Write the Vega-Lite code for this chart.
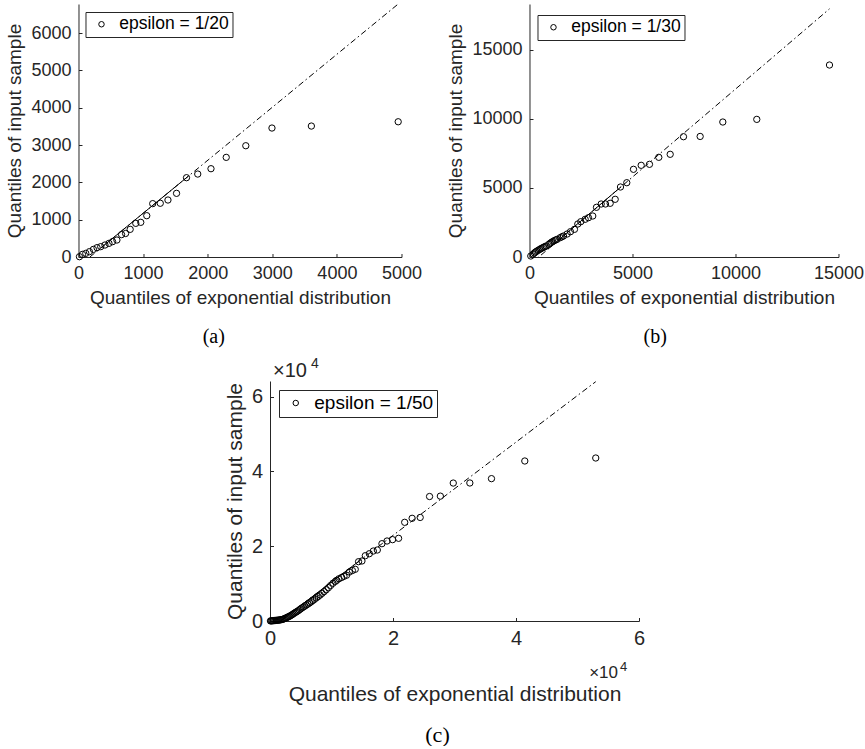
{
  "$schema": "https://vega.github.io/schema/vega-lite/v6.json",
  "padding": {"left": 5, "top": 4, "right": 0, "bottom": 0},
  "background": "white",
  "config": {
    "view": {"stroke": null},
    "font": "Liberation Sans",
    "axis": {
      "grid": false, "domainColor": "#262626", "tickColor": "#262626", "tickSize": -3.5,
      "domainWidth": 1, "tickWidth": 1,
      "labelFont": "Liberation Sans", "labelFontSize": 18, "labelColor": "#262626",
      "labelPadding": 11, "labelFlush": false, "labelOverlap": false,
      "titleFont": "Liberation Sans", "titleFontSize": 19, "titleFontWeight": "normal",
      "titleColor": "#262626", "titlePadding": 6
    },
    "legend": {
      "orient": "none", "padding": 3.5, "strokeColor": "#262626",
      "fillColor": "white", "labelFont": "Liberation Sans", "labelFontSize": 17.5,
      "labelColor": "black", "symbolSize": 30, "symbolStrokeColor": "black",
      "symbolFillColor": "transparent", "symbolStrokeWidth": 1, "symbolOpacity": 1, "symbolOffset": 3.75,
      "labelOffset": 9, "cornerRadius": 0, "symbolType": "circle"
    },
    "title": {"font": "Liberation Serif", "fontSize": 20, "fontWeight": "normal", "color": "black", "orient": "bottom", "offset": 19, "frame": "bounds"}
  },
  "vconcat": [
    {
      "hconcat": [
        {
          "width": 323, "height": 253,
          "title": {"text": "(a)"},
          "layer": [
            {
              "data": {"values": [
                {"x":15,"y":8},{"x":62,"y":71},{"x":113,"y":98},{"x":169,"y":143},{"x":231,"y":205},{"x":287,"y":250},{"x":344,"y":277},{"x":410,"y":321},{"x":472,"y":366},{"x":528,"y":411},{"x":595,"y":455},{"x":667,"y":600},{"x":729,"y":630},{"x":800,"y":741},{"x":887,"y":902},{"x":964,"y":929},{"x":1057,"y":1107},{"x":1149,"y":1430},{"x":1266,"y":1440},{"x":1385,"y":1527},{"x":1518,"y":1706},{"x":1672,"y":2125},{"x":1846,"y":2223},{"x":2051,"y":2366},{"x":2287,"y":2670},{"x":2590,"y":2982},{"x":2995,"y":3456},{"x":3605,"y":3509},{"x":4949,"y":3624}
              ]},
              "mark": {"type": "point", "filled": false, "color": "black", "opacity": 1, "size": 40, "strokeWidth": 1},
              "encoding": {
                "x": {"field": "x", "type": "quantitative", "scale": {"domain": [0, 5000], "nice": false}, "axis": {"values": [0,1000,2000,3000,4000,5000], "format": "d", "title": "Quantiles of exponential distribution"}},
                "y": {"field": "y", "type": "quantitative", "scale": {"domain": [0, 6780], "nice": false}, "axis": {"values": [0,1000,2000,3000,4000,5000,6000], "format": "d", "title": "Quantiles of input sample"}},
                "shape": {"datum": "epsilon = 1/20", "type": "nominal", "scale": {"range": ["circle"]}, "legend": {"title": null, "legendX": 7, "legendY": 8}}
              }
            },
            {
              "data": {"values": [{"x":15,"y":-229},{"x":4949,"y":6780}]},
              "mark": {"type": "line", "clip": true, "color": "black", "strokeWidth": 1, "strokeDash": [6, 3, 1.5, 3]},
              "encoding": {"x": {"field": "x", "type": "quantitative"}, "y": {"field": "y", "type": "quantitative"}}
            },
            {
              "data": {"values": [{"x":354,"y":253},{"x":1704,"y":2171}]},
              "mark": {"type": "line", "clip": true, "color": "black", "strokeWidth": 1},
              "encoding": {"x": {"field": "x", "type": "quantitative"}, "y": {"field": "y", "type": "quantitative"}}
            }
          ]
        },
        {
          "width": 309, "height": 253,
          "title": {"text": "(b)"},
          "layer": [
            {
              "data": {"values": [
                {"x":63,"y":72},{"x":180,"y":217},{"x":240,"y":290},{"x":291,"y":362},{"x":350,"y":420},{"x":421,"y":484},{"x":490,"y":545},{"x":550,"y":600},{"x":615,"y":650},{"x":680,"y":701},{"x":745,"y":750},{"x":810,"y":796},{"x":937,"y":918},{"x":1000,"y":990},{"x":1068,"y":1063},{"x":1130,"y":1120},{"x":1197,"y":1179},{"x":1270,"y":1230},{"x":1343,"y":1280},{"x":1489,"y":1398},{"x":1570,"y":1460},{"x":1650,"y":1519},{"x":1828,"y":1663},{"x":1990,"y":1831},{"x":2184,"y":2000},{"x":2345,"y":2387},{"x":2490,"y":2553},{"x":2703,"y":2727},{"x":2864,"y":2843},{"x":3071,"y":2965},{"x":3252,"y":3594},{"x":3480,"y":3833},{"x":3689,"y":3833},{"x":3917,"y":3884},{"x":4160,"y":4173},{"x":4417,"y":5063},{"x":4723,"y":5374},{"x":5049,"y":6343},{"x":5422,"y":6632},{"x":5825,"y":6704},{"x":6277,"y":7210},{"x":6830,"y":7428},{"x":7476,"y":8700},{"x":8285,"y":8720},{"x":9385,"y":9763},{"x":11034,"y":9955},{"x":14563,"y":13886}
              ]},
              "mark": {"type": "point", "filled": false, "color": "black", "opacity": 1, "size": 40, "strokeWidth": 1},
              "encoding": {
                "x": {"field": "x", "type": "quantitative", "scale": {"domain": [0, 15000], "nice": false}, "axis": {"values": [0,5000,10000,15000], "format": "d", "title": "Quantiles of exponential distribution"}},
                "y": {"field": "y", "type": "quantitative", "scale": {"domain": [0, 18300], "nice": false}, "axis": {"values": [0,5000,10000,15000], "format": "d", "title": "Quantiles of input sample"}},
                "shape": {"datum": "epsilon = 1/30", "type": "nominal", "scale": {"range": ["circle"]}, "legend": {"title": null, "legendX": 8, "legendY": 11}}
              }
            },
            {
              "data": {"values": [{"x":63,"y":-495},{"x":14563,"y":17950}]},
              "mark": {"type": "line", "clip": true, "color": "black", "strokeWidth": 1, "strokeDash": [6, 3, 1.5, 3]},
              "encoding": {"x": {"field": "x", "type": "quantitative"}, "y": {"field": "y", "type": "quantitative"}}
            },
            {
              "data": {"values": [{"x":925,"y":602},{"x":4455,"y":5092}]},
              "mark": {"type": "line", "clip": true, "color": "black", "strokeWidth": 1},
              "encoding": {"x": {"field": "x", "type": "quantitative"}, "y": {"field": "y", "type": "quantitative"}}
            }
          ]
        }
      ],
      "spacing": 24,
      "resolve": {"scale": {"x": "independent", "y": "independent", "shape": "independent"}, "legend": {"shape": "independent"}}
    },
    {
      "width": 369, "height": 240,
      "title": {"text": "(c)", "fontSize": 22, "offset": 20, "frame": "group", "dx": -17},
      "resolve": {"axis": {"y": "independent"}},
      "layer": [
        {
          "data": {"values": [
            {"x":70,"y":20},{"x":205,"y":40},{"x":345,"y":60},{"x":480,"y":80},{"x":620,"y":100},{"x":760,"y":130},{"x":905,"y":150},{"x":1050,"y":180},{"x":1200,"y":200},{"x":1350,"y":230},{"x":1500,"y":260},{"x":1655,"y":300},{"x":1810,"y":350},{"x":1970,"y":400},{"x":2130,"y":480},{"x":2300,"y":600},{"x":2470,"y":720},{"x":2640,"y":850},{"x":2815,"y":990},{"x":2990,"y":1130},{"x":3170,"y":1270},{"x":3355,"y":1450},{"x":3545,"y":1640},{"x":3735,"y":1850},{"x":3930,"y":2070},{"x":4130,"y":2290},{"x":4335,"y":2480},{"x":4545,"y":2700},{"x":4760,"y":2960},{"x":4980,"y":3240},{"x":5205,"y":3500},{"x":5435,"y":3750},{"x":5675,"y":4000},{"x":5920,"y":4270},{"x":6170,"y":4550},{"x":6430,"y":4820},{"x":6695,"y":5130},{"x":6970,"y":5480},{"x":7250,"y":5820},{"x":7540,"y":6200},{"x":7840,"y":6550},{"x":8150,"y":6950},{"x":8470,"y":7400},{"x":8800,"y":7850},{"x":9140,"y":8350},{"x":9495,"y":8900},{"x":9860,"y":9500},{"x":10240,"y":10100},{"x":10630,"y":10600},{"x":10850,"y":10900},{"x":11210,"y":11300},{"x":11650,"y":11650},{"x":12030,"y":11950},{"x":12450,"y":12250},{"x":12900,"y":13100},{"x":13400,"y":13500},{"x":13860,"y":13830},{"x":14400,"y":15870},{"x":14950,"y":16050},{"x":15500,"y":17470},{"x":16150,"y":18000},{"x":16800,"y":18720},{"x":17450,"y":18990},{"x":18200,"y":20680},{"x":19030,"y":21400},{"x":19930,"y":21760},{"x":20910,"y":22120},{"x":21900,"y":26400},{"x":23110,"y":27470},{"x":24420,"y":27700},{"x":25944,"y":33300},{"x":27700,"y":33400},{"x":29800,"y":36900},{"x":32494,"y":36920},{"x":36013,"y":38080},{"x":41430,"y":42800},{"x":52966,"y":43600}
          ]},
          "mark": {"type": "point", "filled": false, "color": "black", "opacity": 1, "size": 40, "strokeWidth": 1},
          "encoding": {
            "x": {"field": "x", "type": "quantitative", "scale": {"domain": [0, 60000], "nice": false}, "axis": {"values": [0,20000,40000,60000], "labelExpr": "datum.value / 10000", "labelFontSize": 20, "titleFontSize": 21, "title": "Quantiles of exponential distribution", "titlePadding": 35}},
            "y": {"field": "y", "type": "quantitative", "scale": {"domain": [0, 64200], "nice": false}, "axis": {"orient": "left", "values": [0,20000,40000,60000], "labelExpr": "datum.value / 10000", "labelFontSize": 20, "titleFontSize": 21, "title": "Quantiles of input sample"}},
            "shape": {"datum": "epsilon = 1/50", "type": "nominal", "scale": {"range": ["circle"]}, "legend": {"title": null, "legendX": 9, "legendY": 9, "labelFontSize": 19}}
          }
        },
        {
          "data": {"values": [{"x":70,"y":-1968},{"x":52966,"y":64020}]},
          "mark": {"type": "line", "clip": true, "color": "black", "strokeWidth": 1, "strokeDash": [6, 3, 1.5, 3]},
          "encoding": {"x": {"field": "x", "type": "quantitative"}, "y": {"field": "y", "type": "quantitative", "axis": {"orient": "right", "domain": false, "ticks": false, "labels": false, "title": null, "grid": false, "minExtent": 33, "maxExtent": 33}}}
        },
        {
          "data": {"values": [{"x":3022,"y":1715},{"x":14560,"y":16108}]},
          "mark": {"type": "line", "clip": true, "color": "black", "strokeWidth": 1},
          "encoding": {"x": {"field": "x", "type": "quantitative"}, "y": {"field": "y", "type": "quantitative", "axis": null}}
        },
        {
          "data": {"values": [{"x":0,"y":64200,"t":"×10"}]},
          "mark": {"type": "text", "align": "left", "baseline": "alphabetic", "dx": 3, "dy": -4, "fontSize": 20, "color": "#262626", "font": "Liberation Sans"},
          "encoding": {"x": {"field": "x", "type": "quantitative"}, "y": {"field": "y", "type": "quantitative", "axis": null}, "text": {"field": "t"}}
        },
        {
          "data": {"values": [{"x":0,"y":64200,"t":"4"}]},
          "mark": {"type": "text", "align": "left", "baseline": "alphabetic", "dx": 41, "dy": -13, "fontSize": 14, "color": "#262626", "font": "Liberation Sans"},
          "encoding": {"x": {"field": "x", "type": "quantitative"}, "y": {"field": "y", "type": "quantitative", "axis": null}, "text": {"field": "t"}}
        },
        {
          "data": {"values": [{"x":60000,"y":0,"t":"×10"}]},
          "mark": {"type": "text", "align": "right", "baseline": "alphabetic", "dx": -21, "dy": 57, "fontSize": 17, "color": "#262626", "font": "Liberation Sans"},
          "encoding": {"x": {"field": "x", "type": "quantitative"}, "y": {"field": "y", "type": "quantitative", "axis": null}, "text": {"field": "t"}}
        },
        {
          "data": {"values": [{"x":60000,"y":0,"t":"4"}]},
          "mark": {"type": "text", "align": "left", "baseline": "alphabetic", "dx": -19, "dy": 50, "fontSize": 13, "color": "#262626", "font": "Liberation Sans"},
          "encoding": {"x": {"field": "x", "type": "quantitative"}, "y": {"field": "y", "type": "quantitative", "axis": null}, "text": {"field": "t"}}
        }
      ]
    }
  ],
  "spacing": 10,
  "center": true,
  "resolve": {"scale": {"x": "independent", "y": "independent", "shape": "independent"}, "legend": {"shape": "independent"}}
}
